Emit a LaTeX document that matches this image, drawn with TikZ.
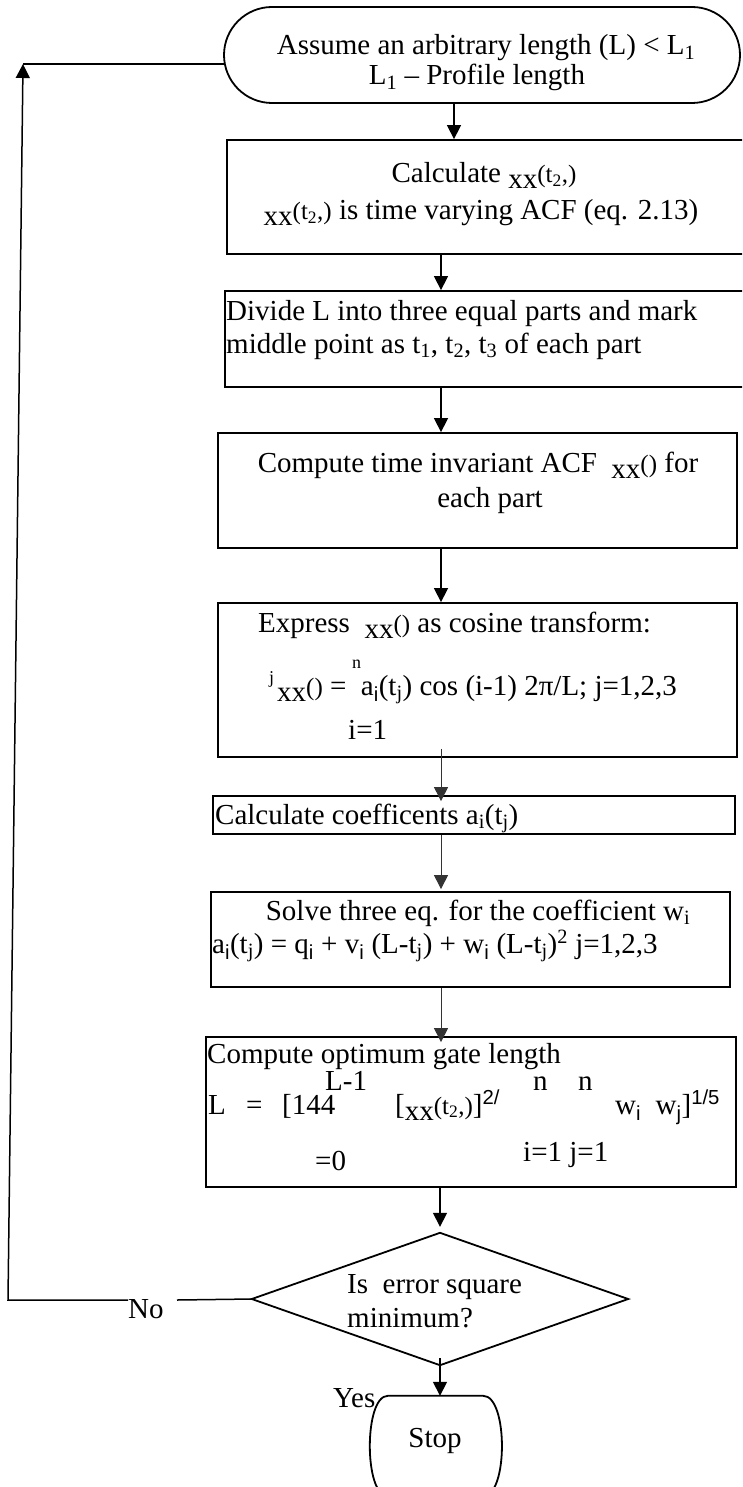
\documentclass[tikz,border=0pt]{standalone}
\usepackage{fontspec}
\setmainfont{Liberation Serif}
\newfontfamily\symf{Liberation Sans}
\usetikzlibrary{arrows.meta,calc}
\newcommand\fsz{\fontsize{29}{33}\selectfont}
\newcommand\smz{\fontsize{18}{18}\selectfont}
\newcommand\lowxx{\raisebox{-6pt}{xx}}
\newcommand\parz[1]{{\fontsize{25}{25}\selectfont #1}}
\tikzset{
  box/.style={draw, line width=1.8pt, inner sep=0pt},
  shp/.style={line width=1.8pt},
  txt/.style={inner sep=0pt, anchor=base west, font=\fsz},
  ctxt/.style={inner sep=0pt, anchor=base, font=\fsz},
  conn/.style={line width=1.5pt},
  arr/.style={line width=1.5pt, -{Triangle[length=14pt,width=14pt]}},
  thinarr/.style={line width=1pt, draw=black!80, -{Triangle[length=14pt,width=14pt]}},
}
\begin{document}
\begin{tikzpicture}[x=1pt,y=-1pt]
\useasboundingbox (0,0) rectangle (742,1487);
\clip (0,0) rectangle (742,1487);
% boxes
\node[box, rounded corners=48pt, minimum width=516pt, minimum height=96pt] (start) at (482,55) {};
\node[box, minimum width=518pt, minimum height=114pt] (b2) at (486,197) {};
\node[box, minimum width=520pt, minimum height=96pt] (b3) at (485,339) {};
\node[box, minimum width=519pt, minimum height=115pt] (b4) at (477.5,490.5) {};
\node[box, minimum width=519pt, minimum height=154pt] (b5) at (477.5,680) {};
\node[box, minimum width=522pt, minimum height=38pt] (b6) at (474,815) {};
\node[box, minimum width=519pt, minimum height=95pt] (b7) at (470.5,939.5) {};
\node[box, minimum width=530pt, minimum height=150pt] (b8) at (471,1112) {};
\node[inner sep=0pt, minimum width=376pt, minimum height=132pt] (dec) at (440,1299) {};
\draw[shp] (dec.west) -- (dec.north) -- (dec.east) -- (dec.south) -- cycle;
\node[inner sep=0pt, minimum width=132pt, minimum height=100pt] (stop) at (436,1446) {};
\draw[shp] ($(stop.north west)+(18,0)$) -- ($(stop.north east)+(-19,0)$)
  .. controls ($(stop.north east)+(6,0)$) and ($(stop.south east)+(6,0)$) .. ($(stop.south east)+(-19,0)$)
  -- ($(stop.south west)+(18,0)$)
  .. controls ($(stop.south west)+(-6,0)$) and ($(stop.north west)+(-6,0)$) .. ($(stop.north west)+(18,0)$) -- cycle;
% texts
\node[ctxt] (s1) at (486,55) {Assume an arbitrary length (L) < L\textsubscript{1}};
\node[ctxt] (s2) at (477,85) {L\textsubscript{1} – Profile length};
\node[ctxt] (t2a) at (484,183) {Calculate \lowxx\parz{(t\textsubscript{2},)}};
\node[ctxt] (t2b) at (481,220) {\lowxx\parz{(t\textsubscript{2},)} is time varying ACF (eq. 2.13)};
\node[txt] (t3a) at (226,320) {Divide L into three equal parts and mark};
\node[txt] (t3b) at (226,353) {middle point as t\textsubscript{1}, t\textsubscript{2}, t\textsubscript{3} of each part};
\node[ctxt] (t4a) at (478,472) {Compute time invariant ACF \ \lowxx\parz{()} for};
\node[ctxt] (t4b) at (490,507) {each part};
\node[txt] (t5a) at (258,632) {Express \ \lowxx\parz{()} as cosine transform:};
\node[txt] (t5j) at (269,683) {\smz j};
\node[txt] (t5b) at (277,695) {\lowxx\parz{()} = \ a\textsubscript{\symf i}(t\textsubscript{j}) cos (i-1) 2π/L; j=1,2,3};
\node[txt] (t5n) at (352,668) {\smz n};
\node[txt] (t5i) at (348,739) {i=1};
\node[txt] (t6) at (215,824) {Calculate coefficents a\textsubscript{i}(t\textsubscript{j})};
\node[ctxt] (t7a) at (478,920) {Solve three eq. for the coefficient w\textsubscript{i}};
\node[txt] (t7b) at (212,953) {a\textsubscript{\symf i}(t\textsubscript{j}) = q\textsubscript{\symf i} + v\textsubscript{\symf i} (L-t\textsubscript{j}) + w\textsubscript{\symf i} (L-t\textsubscript{j})\textsuperscript{2} j=1,2,3};
\node[txt] (t8a) at (207,1063) {Compute optimum gate length};
\node[txt] (t8b) at (325,1090) {L-1};
\node[txt] (t8c) at (533,1090) {n};
\node[txt] (t8d) at (578,1090) {n};
\node[txt] (t8e) at (208,1114) {L};
\node[txt] (t8f) at (246,1114) {=};
\node[txt] (t8g) at (282,1114) {[144};
\node[txt] (t8h) at (395,1114) {[\lowxx\parz{(t\textsubscript{2},)}]\textsuperscript{\symf 2/}};
\node[txt] (t8i) at (615,1114) {w\textsubscript{\symf i}\ \ w\textsubscript{\symf j}]\textsuperscript{\symf 1/5}};
\node[txt] (t8j) at (523,1161) {i=1 j=1};
\node[txt] (t8k) at (315,1170) {=0};
\node[txt] (d1) at (347,1293) {Is \ error square};
\node[txt] (d2) at (347,1327) {minimum?};
\node[txt] (no) at (128,1318) {No};
\node[txt] (yes) at (333,1407) {Yes};
\node[ctxt] (st) at (435,1447) {Stop};
% connectors
\coordinate (cA) at (454,0);
\coordinate (cB) at (441,0);
\coordinate (cC) at (440,0);
\draw[arr] (start.south -| cA) -- (b2.north -| cA);
\draw[arr] (b2.south -| cB) -- (b3.north -| cB);
\draw[arr] (b3.south -| cB) -- (b4.north -| cB);
\draw[arr] (b4.south -| cB) -- (b5.north -| cB);
\draw[thinarr] ($(b5.south -| cB)+(0,-9)$) -- ($(b6.north -| cB)+(0,6)$);
\draw[thinarr] (b6.south -| cB) -- ($(b7.north -| cB)+(0,-2)$);
\draw[thinarr] (b7.south -| cB) -- ($(b8.north -| cB)+(0,6)$);
\draw[arr] (b8.south -| cC) -- ($(dec.north)+(0,-6)$);
\draw[arr] ($(dec.south)+(0,-7)$) -- (stop.north -| cC);
\coordinate (n1) at (177,1300);
\coordinate (n2) at (128,1300);
\coordinate (c1) at (8,1300);
\coordinate (c2) at (23,64);
\coordinate (sj) at (225,64);
\draw[conn] (dec.west) -- (n1);
\draw[arr] (n2) -- (c1) -- (c2);
\draw[conn] (c2) -- (sj);
\end{tikzpicture}
\end{document}
